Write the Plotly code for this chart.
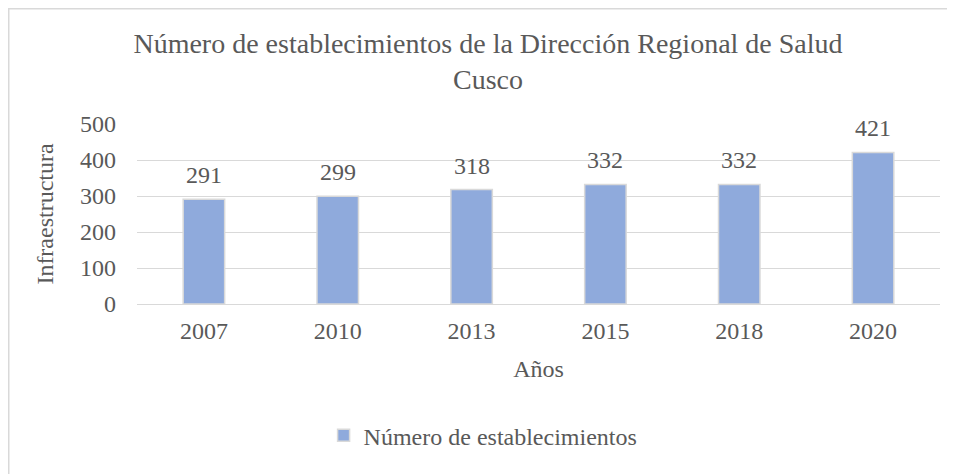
import plotly.graph_objects as go

years = ["2007", "2010", "2013", "2015", "2018", "2020"]
establecimientos = [291, 299, 318, 332, 332, 421]
series_name = "Número de establecimientos"
title_text = "Número de establecimientos de la Dirección Regional de Salud<br>Cusco"
y_ticks = [0, 100, 200, 300, 400, 500]

FONT = "Liberation Serif, Times New Roman, serif"
GREY = "#595959"

ML, MT, PW, PH = 129, 116, 803, 180  # plot-area placement in figure pixels

fig = go.Figure()
fig.add_trace(go.Bar(
    x=years, y=establecimientos, name=series_name,
    marker=dict(color="#8faadc", line=dict(color="#d9d9d9", width=1.5)),
    width=0.31, showlegend=True,
))

# data labels: category index on the category axis, value on the y axis
for i, yv in enumerate(establecimientos):
    fig.add_annotation(x=i, y=yv, xref="x", yref="y", text=str(yv), showarrow=False,
                       yanchor="bottom", yshift=9,
                       font=dict(family=FONT, size=24, color=GREY))

fig.update_layout(
    width=955, height=474,
    margin=dict(l=ML, r=955 - ML - PW, t=MT, b=474 - MT - PH, autoexpand=False),
    paper_bgcolor="white", plot_bgcolor="white",
    font=dict(family=FONT, color=GREY, size=24),
    title=dict(text=title_text, x=480 / 955, xanchor="center",
               y=1 - 44.5 / 474, yanchor="top", yref="container",
               font=dict(family=FONT, size=28, color=GREY)),
    showlegend=True,
    legend=dict(orientation="h", x=0.431, xanchor="center", y=-0.606, yanchor="top",
                font=dict(family=FONT, size=24, color=GREY),
                itemwidth=30, traceorder="normal"),
)
fig.update_yaxes(range=[0, 500], tickvals=y_ticks, showgrid=True, gridcolor="#d9d9d9",
                 gridwidth=1, zeroline=False, showline=False,
                 ticklabelstandoff=20,
                 tickfont=dict(family=FONT, size=24, color=GREY),
                 title=dict(text="Infraestructura", standoff=19,
                            font=dict(family=FONT, size=24, color=GREY)))
fig.update_xaxes(type="category", range=[-0.5, len(years) - 0.5],
                 showgrid=False, showline=True, linecolor="#d9d9d9",
                 linewidth=1, ticklabelstandoff=5,
                 tickfont=dict(family=FONT, size=24, color=GREY),
                 title=dict(text="Años", standoff=17,
                            font=dict(family=FONT, size=24, color=GREY)))

# outer chart border (left and top visible, right/bottom run past the page)
fig.add_shape(type="rect", xref="paper", yref="paper",
              x0=(0.75 - ML) / PW, x1=(1400 - ML) / PW,
              y0=(MT + PH - 900) / PH, y1=(MT + PH - 0.75) / PH,
              line=dict(color="#d9d9d9", width=1.5), fillcolor="rgba(0,0,0,0)",
              layer="below")

fig.write_html("out.html")
